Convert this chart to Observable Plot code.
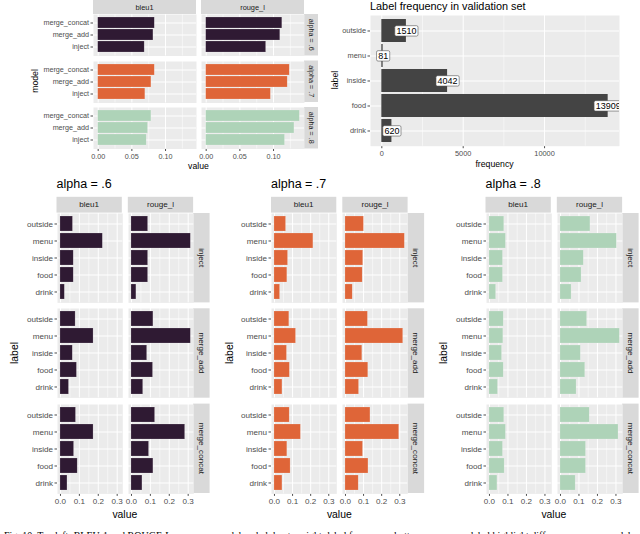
<!DOCTYPE html>
<html><head><meta charset="utf-8">
<script src="https://cdn.jsdelivr.net/npm/d3@7"></script>
<script src="https://cdn.jsdelivr.net/npm/@observablehq/plot@0.6"></script>
<style>
html,body{margin:0;padding:0;background:#fff;}
#chart{position:relative;width:640px;height:534px;overflow:hidden;background:#fff;}
#chart svg{position:absolute;overflow:visible;}
</style></head><body><div id="chart"></div>
<script>
// ---------- data ----------
const labels = ["outside","menu","inside","food","drink"];
const models = ["inject","merge_add","merge_concat"];
const metrics = ["bleu1","rouge_l"];
const alphas = [".6",".7",".8"];
const alphaColors = ["#2f1a33","#df6538","#aed3b8"];

// overall scores (top-left), order: merge_concat, merge_add, inject
const overallModels = ["merge_concat","merge_add","inject"];
const overall_bleu1_a6 = [0.084, 0.082, 0.069];
const overall_bleu1_a7 = [0.084, 0.079, 0.070];
const overall_bleu1_a8 = [0.079, 0.074, 0.072];
const overall_rouge_a6 = [0.113, 0.110, 0.089];
const overall_rouge_a7 = [0.124, 0.121, 0.096];
const overall_rouge_a8 = [0.139, 0.131, 0.117];

// label frequency (top-right)
const freqLabels = ["outside","menu","inside","food","drink"];
const freqCounts = [1510, 81, 4042, 13909, 620];

// per-label scores, order: outside, menu, inside, food, drink
const a6_inject_bleu1 = [0.066, 0.224, 0.070, 0.070, 0.023];
const a6_inject_rouge = [0.088, 0.314, 0.088, 0.088, 0.026];
const a6_add_bleu1    = [0.080, 0.175, 0.065, 0.087, 0.045];
const a6_add_rouge    = [0.116, 0.314, 0.083, 0.114, 0.062];
const a6_concat_bleu1 = [0.082, 0.175, 0.072, 0.091, 0.037];
const a6_concat_rouge = [0.125, 0.284, 0.093, 0.116, 0.058];

const a7_inject_bleu1 = [0.064, 0.215, 0.075, 0.071, 0.031];
const a7_inject_rouge = [0.102, 0.328, 0.098, 0.095, 0.040];
const a7_add_bleu1    = [0.082, 0.119, 0.069, 0.085, 0.044];
const a7_add_rouge    = [0.124, 0.319, 0.093, 0.126, 0.075];
const a7_concat_bleu1 = [0.084, 0.146, 0.071, 0.089, 0.044];
const a7_concat_rouge = [0.138, 0.297, 0.097, 0.127, 0.073];

const a8_inject_bleu1 = [0.080, 0.089, 0.073, 0.073, 0.036];
const a8_inject_rouge = [0.162, 0.305, 0.126, 0.114, 0.060];
const a8_add_bleu1    = [0.077, 0.075, 0.068, 0.077, 0.046];
const a8_add_rouge    = [0.144, 0.321, 0.110, 0.134, 0.087];
const a8_concat_bleu1 = [0.080, 0.089, 0.073, 0.082, 0.043];
const a8_concat_rouge = [0.158, 0.314, 0.138, 0.138, 0.082];

const captionText = "Fig. 10. Top left: BLEU-1 and ROUGE-L scores per model and alpha; top right: label frequency; bottom: scores per label highlight differences across models";

// ---------- helpers ----------
const FONT = '"Liberation Sans", Arial, Helvetica, sans-serif';
const root = document.getElementById("chart");
const bg = d3.select(root).append("svg").attr("width",640).attr("height",534)
  .style("left","0px").style("top","0px");

function strip(x,y,w,h,text,rot,fs){
  bg.append("rect").attr("x",x).attr("y",y).attr("width",w).attr("height",h).attr("fill","#d9d9d9");
  const t = bg.append("text").attr("font-size",fs).attr("fill","#1a1a1a")
    .attr("text-anchor","middle").attr("dominant-baseline","central")
    .attr("font-family",FONT).text(text);
  if (rot) t.attr("transform",`translate(${x+w/2},${y+h/2}) rotate(90)`);
  else t.attr("x",x+w/2).attr("y",y+h/2);
}
function label(x,y,text,fs,{rot=0,anchor="middle",family=FONT,fill="#000",weight="normal"}={}){
  const t = bg.append("text").attr("font-size",fs).attr("fill",fill)
    .attr("text-anchor",anchor).attr("dominant-baseline","central")
    .attr("font-family",family).attr("font-weight",weight).text(text);
  if (rot) t.attr("transform",`translate(${x},${y}) rotate(${rot})`);
  else t.attr("x",x).attr("y",y);
  return t;
}

function panel(o){
  const data = o.cats.map((c,i)=>({label:c, value:o.values[i]}));
  const mL = o.showY ? o.mL : 0, mB = o.showX ? o.mB : 0;
  const p = Plot.plot({
    width: o.w + mL, height: o.h + mB,
    marginLeft: mL, marginRight: 0, marginTop: 0, marginBottom: mB,
    style: {fontSize: o.fs + "px", fontFamily: FONT, color: "#4d4d4d", background: "transparent", overflow: "visible"},
    x: {domain: o.domain, ticks: o.ticks, tickFormat: o.fmt, tickSize: 2.5, tickPadding: 2,
        label: null, axis: o.showX ? "bottom" : null},
    y: {domain: o.cats, paddingInner: 0.1, paddingOuter: 0.15, tickSize: 2.5, tickPadding: 2,
        label: null, axis: o.showY ? "left" : null},
    marks: [
      Plot.frame({fill: "#ebebeb", stroke: "none"}),
      Plot.ruleX(o.minor, {stroke: "#ffffff", strokeWidth: 0.5}),
      Plot.ruleX(o.ticks, {stroke: "#ffffff", strokeWidth: 1}),
      Plot.ruleY(o.cats, {y: d => d, stroke: "#ffffff", strokeWidth: 1}),
      Plot.barX(data, {x: "value", y: "label", fill: o.fill, stroke: o.stroke || "none", strokeWidth: 0.5}),
      ...(o.extra ? o.extra(data) : [])
    ]
  });
  p.style.position = "absolute";
  p.style.left = (o.x - mL) + "px";
  p.style.top = o.y + "px";
  root.appendChild(p);
  return p;
}

// ---------- top-left: overall scores ----------
{
  const overall = [
    [overall_bleu1_a6, overall_rouge_a6],
    [overall_bleu1_a7, overall_rouge_a7],
    [overall_bleu1_a8, overall_rouge_a8]
  ];
  const mx = d3.max(overall.flat(2));
  const domain = [-0.05*mx, 1.05*mx];
  const colX = [93, 201], colW = 103;
  const rowY = [14, 60.5, 107], rowH = 41.5;
  metrics.forEach((m,j)=> strip(colX[j], 0, colW, 14, m, false, 7.4));
  alphas.forEach((a,i)=> strip(colX[1]+colW, rowY[i], 14, rowH, "alpha = " + a, true, 7.2));
  alphas.forEach((a,i)=> metrics.forEach((m,j)=>{
    panel({values: overall[i][j], cats: overallModels, domain,
      ticks: [0, 0.05, 0.10], minor: [0.025, 0.075, 0.125], fmt: d3.format(".2f"),
      fill: alphaColors[i], stroke: "rgba(255,255,255,0.35)",
      x: colX[j], y: rowY[i], w: colW, h: rowH,
      showX: i === 2, showY: j === 0, mL: 62, mB: 12, fs: 7.2});
  }));
  label(198.5, 166, "value", 8.7);
  label(34.5, 81, "model", 8.7, {rot: -90});
}

// ---------- top-right: label frequency ----------
{
  const mx = d3.max(freqCounts);
  const p = panel({values: freqCounts, cats: freqLabels, domain: [-0.05*mx, 1.05*mx],
    ticks: [0, 5000, 10000], minor: [2500, 7500, 12500], fmt: d3.format("d"),
    fill: "#444444", x: 370, y: 15, w: 249, h: 130.7,
    showX: true, showY: true, mL: 45, mB: 12, fs: 7.4,
    extra: data => [Plot.text(data, {x: "value", y: "label", text: d => String(d.value),
      fontSize: 9, fill: "#000", clip: true})]
  });
  p.querySelectorAll('g[aria-label="text"] text').forEach(t => {
    const bb = t.getBBox();
    const r = document.createElementNS("http://www.w3.org/2000/svg","rect");
    r.setAttribute("x", bb.x - 1.6); r.setAttribute("y", bb.y - 0.2);
    r.setAttribute("width", bb.width + 3.2); r.setAttribute("height", bb.height + 0.4);
    r.setAttribute("rx", 1.5); r.setAttribute("fill", "#ffffff");
    r.setAttribute("stroke", "#555"); r.setAttribute("stroke-width", 0.6);
    if (t.getAttribute("transform")) r.setAttribute("transform", t.getAttribute("transform"));
    t.parentNode.insertBefore(r, t);
  });
  label(370, 6, "Label frequency in validation set", 10.9, {anchor: "start"});
  label(494.5, 164, "frequency", 8.7);
  label(335, 80, "label", 8.7, {rot: -90});
}

// ---------- bottom: per-label scores for each alpha ----------
{
  const perAlpha = [
    [[a6_inject_bleu1, a6_inject_rouge], [a6_add_bleu1, a6_add_rouge], [a6_concat_bleu1, a6_concat_rouge]],
    [[a7_inject_bleu1, a7_inject_rouge], [a7_add_bleu1, a7_add_rouge], [a7_concat_bleu1, a7_concat_rouge]],
    [[a8_inject_bleu1, a8_inject_rouge], [a8_add_bleu1, a8_add_rouge], [a8_concat_bleu1, a8_concat_rouge]]
  ];
  const rowY = [213, 308.3, 403.6], rowH = 89.4, colW = 65.3, gap = 6;
  alphas.forEach((a,k)=>{
    const x0 = 56.5 + k*214.5;
    const colX = [x0, x0 + colW + gap];
    const mx = d3.max(perAlpha[k].flat(2));
    const domain = [-0.05*mx, 1.05*mx];
    label(x0, 184, "alpha = " + a, 12.5, {anchor: "start"});
    metrics.forEach((m,j)=> strip(colX[j], 196.8, colW, 15.8, m, false, 8.1));
    models.forEach((md,i)=> strip(colX[1]+colW, rowY[i], 16.5, rowH, md, true, 8.1));
    models.forEach((md,i)=> metrics.forEach((m,j)=>{
      panel({values: perAlpha[k][i][j], cats: labels, domain,
        ticks: [0, 0.1, 0.2, 0.3], minor: [0.05, 0.15, 0.25], fmt: d3.format(".1f"),
        fill: alphaColors[k], stroke: "rgba(255,255,255,0.35)",
        x: colX[j], y: rowY[i], w: colW, h: rowH,
        showX: i === 2, showY: j === 0, mL: 50, mB: 14, fs: 8.1});
    }));
    label(x0 + (colW*2 + gap)/2, 514, "value", 10.4);
    label(x0 - 42, 353, "label", 10.4, {rot: -90});
  });
}

// ---------- caption (cut off at the bottom edge, as in the source figure) ----------
label(4, 535, captionText, 10, {anchor: "start", family: '"Liberation Serif", "Times New Roman", serif'});
</script></body></html>
